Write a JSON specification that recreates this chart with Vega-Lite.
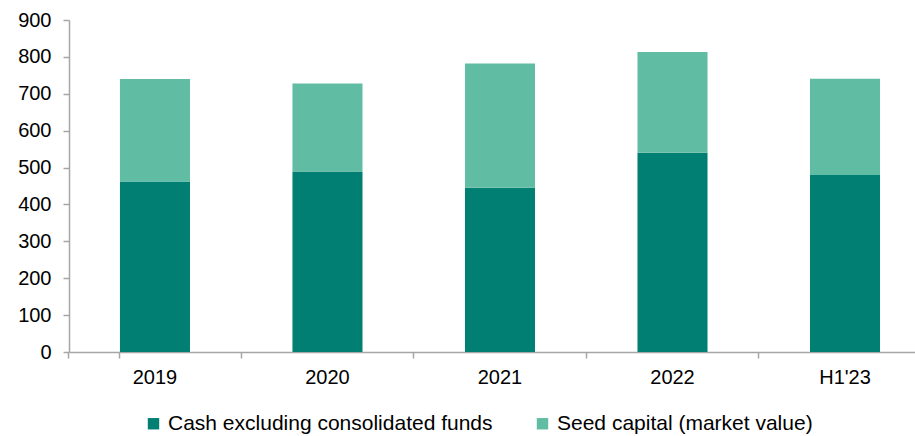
{
  "$schema": "https://vega.github.io/schema/vega-lite/v6.json",
  "width": 846,
  "height": 332,
  "autosize": {"type": "none"},
  "padding": {"left": 69, "top": 20, "right": 0, "bottom": 84},
  "background": "white",
  "data": {
    "values": [
      {"period": "2019", "series": "Cash excluding consolidated funds", "value": 462},
      {"period": "2019", "series": "Seed capital (market value)", "value": 278},
      {"period": "2020", "series": "Cash excluding consolidated funds", "value": 489},
      {"period": "2020", "series": "Seed capital (market value)", "value": 239},
      {"period": "2021", "series": "Cash excluding consolidated funds", "value": 445},
      {"period": "2021", "series": "Seed capital (market value)", "value": 337},
      {"period": "2022", "series": "Cash excluding consolidated funds", "value": 540},
      {"period": "2022", "series": "Seed capital (market value)", "value": 273},
      {"period": "H1'23", "series": "Cash excluding consolidated funds", "value": 480},
      {"period": "H1'23", "series": "Seed capital (market value)", "value": 261}
    ]
  },
  "mark": {"type": "bar"},
  "encoding": {
    "x": {
      "field": "period",
      "type": "nominal",
      "sort": null,
      "scale": {"paddingInner": 0.594, "paddingOuter": 0.249, "align": 0.593},
      "axis": {
        "title": null,
        "labelAngle": 0,
        "bandPosition": -0.731,
        "tickExtra": true,
        "domainColor": "#A6A6A6",
        "tickColor": "#A6A6A6",
        "tickSize": 6,
        "labelPadding": 9,
        "labelFont": "Liberation Sans",
        "labelFontSize": 20,
        "labelColor": "#000000"
      }
    },
    "y": {
      "field": "value",
      "type": "quantitative",
      "stack": "zero",
      "scale": {"domain": [0, 900], "nice": false},
      "axis": {
        "title": null,
        "values": [0, 100, 200, 300, 400, 500, 600, 700, 800, 900],
        "grid": false,
        "domainColor": "#A6A6A6",
        "tickColor": "#A6A6A6",
        "tickSize": 6,
        "labelPadding": 12,
        "labelFont": "Liberation Sans",
        "labelFontSize": 20,
        "labelColor": "#000000"
      }
    },
    "order": {"field": "series", "sort": "ascending"},
    "color": {
      "field": "series",
      "type": "nominal",
      "scale": {
        "domain": ["Cash excluding consolidated funds", "Seed capital (market value)"],
        "range": ["#007F72", "#60BCA3"]
      },
      "legend": {
        "title": null,
        "orient": "none",
        "legendX": 74,
        "legendY": 393,
        "direction": "horizontal",
        "symbolType": "square",
        "symbolSize": 130,
        "symbolStrokeWidth": 0,
        "labelFont": "Liberation Sans",
        "labelFontSize": 21,
        "labelColor": "#000000",
        "labelOffset": 4,
        "columnPadding": 39,
        "labelLimit": 500
      }
    }
  },
  "config": {
    "view": {"stroke": null},
    "axis": {"domainWidth": 1.5, "tickWidth": 1.5}
  }
}
